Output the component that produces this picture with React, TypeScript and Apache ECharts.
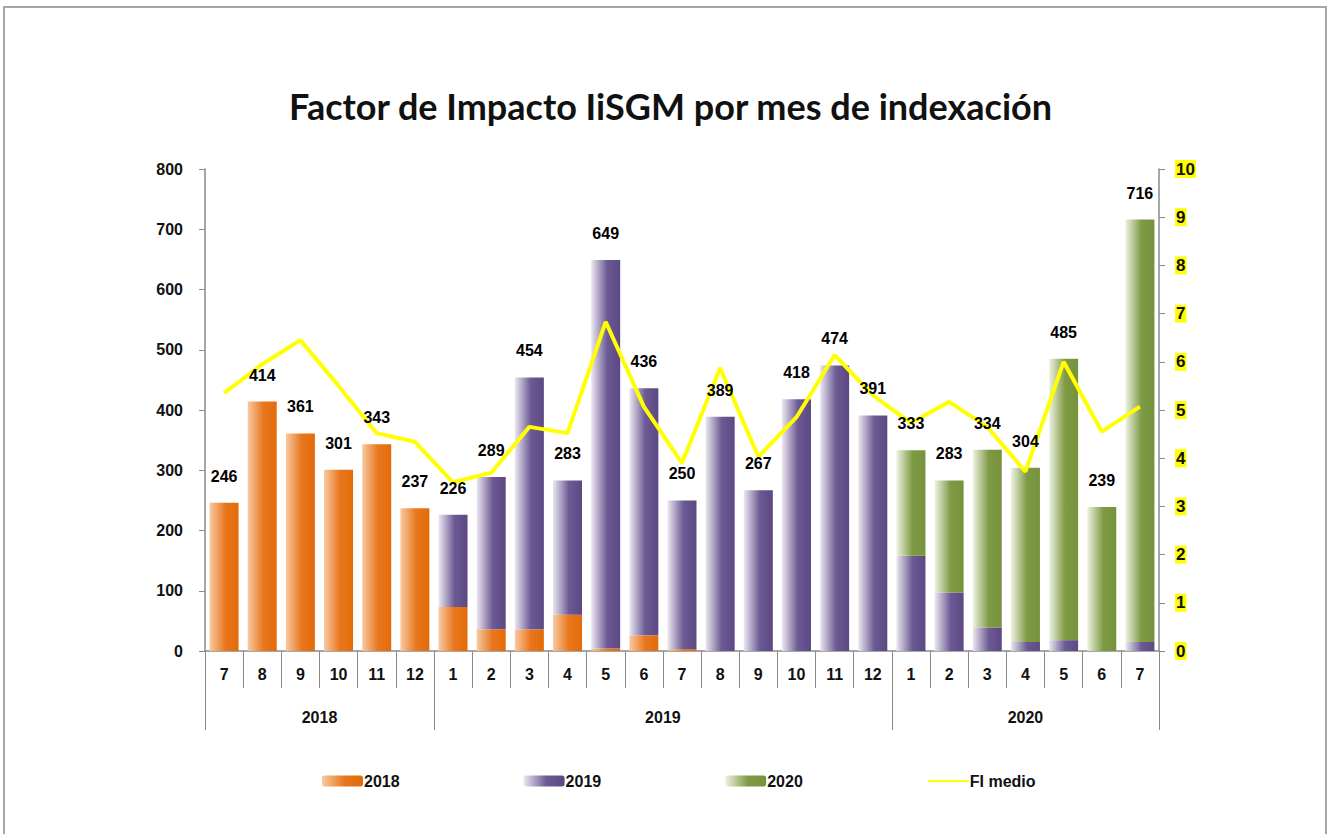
import React, { useEffect, useRef } from "react";
import * as echarts from "echarts";

const months = ["7", "8", "9", "10", "11", "12", "1", "2", "3", "4", "5", "6", "7", "8", "9", "10", "11", "12", "1", "2", "3", "4", "5", "6", "7"];
const yearLabels = ["2018", "2019", "2020"];
const yearCenters = [3, 12, 21.5];
const yearBounds = [0, 6, 18, 25];

const s2018 = [246, 414, 361, 301, 343, 237, 73, 36, 36, 60, 4, 26, 3, 0, 0, 0, 0, 0, 0, 0, 0, 0, 0, 0, 0];
const s2019 = [0, 0, 0, 0, 0, 0, 153, 253, 418, 223, 645, 410, 247, 389, 267, 418, 474, 391, 158, 97, 39, 15, 18, 0, 15];
const s2020 = [0, 0, 0, 0, 0, 0, 0, 0, 0, 0, 0, 0, 0, 0, 0, 0, 0, 0, 175, 186, 295, 289, 467, 239, 701];
const totals = [246, 414, 361, 301, 343, 237, 226, 289, 454, 283, 649, 436, 250, 389, 267, 418, 474, 391, 333, 283, 334, 304, 485, 239, 716];
const fiMedio = [5.35, 5.95, 6.45, 5.5, 4.52, 4.34, 3.5, 3.7, 4.65, 4.52, 6.83, 5.07, 3.9, 5.87, 4.03, 4.85, 6.14, 5.31, 4.73, 5.17, 4.65, 3.72, 6.0, 4.55, 5.07];

const FONT = "'Liberation Sans Narrow', 'Liberation Sans', Arial, sans-serif";

const grad = (c0: string, c1: string, c2: string) =>
  new echarts.graphic.LinearGradient(0, 0, 1, 0, [
    { offset: 0, color: c0 },
    { offset: 0.55, color: c1 },
    { offset: 1, color: c2 },
  ]);

export default function App() {
  const ref = useRef<HTMLDivElement>(null);
  useEffect(() => {
    document.body.style.margin = "0";
    const chart = echarts.init(ref.current!, null, { renderer: "svg" });
    const axisColor = "#8a8a8a";
    const lbl = { fontFamily: FONT, fontWeight: "bold" as const, fontSize: 16, color: "#111" };
    chart.setOption({
      animation: false,
      backgroundColor: "#fff",
      title: {
        text: "Factor de Impacto IiSGM por mes de indexación",
        left: 284,
        top: 83,
        textStyle: { fontFamily: "Lato, 'Open Sans', sans-serif", fontWeight: "bold", fontSize: 36, color: "#111" },
      },
      graphic: [
        {
          type: "rect",
          shape: { x: 4, y: 7, width: 1322, height: 840 },
          style: { fill: "none", stroke: "#a6a6a6", lineWidth: 2 },
          silent: true,
        },
      ],
      legend: {
        left: 317,
        top: 768,
        itemWidth: 41,
        itemHeight: 11,
        itemGap: 124,
        textStyle: { ...lbl, padding: [0, 0, 0, -4] },
        data: ["2018", "2019", "2020", { name: "FI medio", itemStyle: { opacity: 0 } }],
      },
      grid: { left: 205, right: 169, top: 169, bottom: 183, containLabel: false },
      xAxis: [
        {
          type: "category",
          data: months,
          position: "bottom",
          axisLine: { show: true, lineStyle: { color: axisColor, width: 1.5 } },
          axisTick: { show: true, length: 37, lineStyle: { color: axisColor } },
          axisLabel: { ...lbl, margin: 15, interval: 0 },
        },
        {
          type: "value",
          min: 0,
          max: 25,
          position: "bottom",
          axisLine: { show: false },
          splitLine: { show: false },
          axisTick: { show: true, length: 79, customValues: yearBounds, lineStyle: { color: axisColor } },
          axisLabel: {
            ...lbl,
            margin: 58,
            customValues: yearCenters,
            formatter: (v: number) => yearLabels[yearCenters.indexOf(v)] ?? "",
          },
        },
      ],
      yAxis: [
        {
          type: "value",
          min: 0,
          max: 800,
          interval: 100,
          position: "left",
          axisLine: { show: true, lineStyle: { color: axisColor, width: 1.5 } },
          axisTick: { show: true, length: 6, lineStyle: { color: axisColor } },
          splitLine: { show: false },
          axisLabel: { ...lbl, margin: 22 },
        },
        {
          type: "value",
          min: 0,
          max: 10,
          interval: 1,
          position: "right",
          axisLine: { show: true, lineStyle: { color: axisColor, width: 1.5 } },
          axisTick: { show: true, length: 6, lineStyle: { color: axisColor } },
          splitLine: { show: false },
          axisLabel: { ...lbl, fontSize: 17, margin: 16, backgroundColor: "#ffff00", padding: [1, 1, 0, 1] },
        },
      ],
      series: [
        {
          name: "2018",
          type: "bar",
          stack: "m",
          barWidth: "76%",
          data: s2018,
          itemStyle: { color: grad("#f8c9a2", "#e8761c", "#e36c09") },
        },
        {
          name: "2019",
          type: "bar",
          stack: "m",
          data: s2019,
          itemStyle: { color: grad("#ebe7f0", "#6c5a94", "#5c4883") },
        },
        {
          name: "2020",
          type: "bar",
          stack: "m",
          data: s2020,
          itemStyle: { color: grad("#eef3e3", "#7f9a45", "#76923c") },
        },
        {
          name: "totals",
          type: "scatter",
          data: totals,
          symbolSize: 1,
          itemStyle: { color: "rgba(0,0,0,0)", opacity: 1 },
          silent: true,
          label: { show: true, position: "top", distance: 18, ...lbl, color: "#000" },
          z: 5,
        },
        {
          name: "FI medio",
          type: "line",
          yAxisIndex: 1,
          data: fiMedio,
          symbol: "none",
          lineStyle: { color: "#ffff00", width: 4 },
          itemStyle: { color: "#ffff00" },
          z: 4,
        },
      ],
    });
    return () => chart.dispose();
  }, []);
  return <div ref={ref} style={{ width: 1328, height: 834 }} />;
}
